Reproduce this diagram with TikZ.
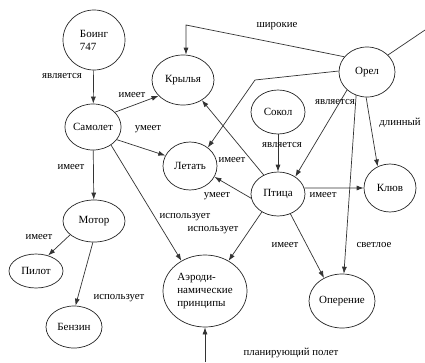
\documentclass[tikz,border=0pt]{standalone}
\usepackage{fontspec}
\setmainfont{Liberation Serif}
\usetikzlibrary{shapes.geometric,arrows.meta}
\begin{document}
\begin{tikzpicture}[x=1pt,y=-1pt,
  el/.style={ellipse,draw=black!85,line width=0.7pt,inner sep=0pt,font=\fontsize{11}{13}\selectfont},
  lbl/.style={font=\fontsize{10.8}{11}\selectfont,inner sep=0pt},
  con/.style={draw=black!80,line width=0.7pt,-{Latex[length=7pt,width=5pt]}},
  ln/.style={draw=black!80,line width=0.7pt}]
\useasboundingbox[fill=white] (0,0) rectangle (425,362);
% nodes
\node[el,minimum width=62pt,minimum height=60pt,align=left] (boeing) at (94,40) {Боинг\\747};
\node[el,minimum width=56pt,minimum height=46pt] (samolet) at (93,127) {Самолет};
\node[el,minimum width=62pt,minimum height=50pt] (kryl) at (183,80) {Крылья};
\node[el,minimum width=54pt,minimum height=48pt] (letat) at (190,166) {Летать};
\node[el,minimum width=54pt,minimum height=44pt] (sokol) at (278,112) {Сокол};
\node[el,minimum width=56pt,minimum height=50pt] (orel) at (367,72) {Орел};
\node[el,minimum width=54pt,minimum height=44pt] (ptica) at (278,194) {Птица};
\node[el,minimum width=52pt,minimum height=48pt] (kluv) at (390,188) {Клюв};
\node[el,minimum width=66pt,minimum height=54pt] (operenie) at (342,301) {Оперение};
\node[el,minimum width=84pt,minimum height=72pt,align=left] (aero) at (205,291) {Аэроди-\\намические\\принципы};
\node[el,minimum width=62pt,minimum height=42pt] (motor) at (94,221) {Мотор};
\node[el,minimum width=54pt,minimum height=34pt] (pilot) at (36,271) {Пилот};
\node[el,minimum width=56pt,minimum height=42pt] (benzin) at (74,327) {Бензин};
\coordinate (cw) at (186,25);
\coordinate (cl) at (255,80);
\coordinate (bot) at (205,362);
\coordinate (ne) at (425,30);
% connectors
\draw[con] (boeing) -- (samolet);
\draw[con] (samolet.34) -- (kryl.213);
\draw[con] (samolet.332) -- (letat.157);
\draw[con] (samolet) -- (motor);
\draw[con] (samolet.315) -- (aero.128);
\draw[con] (motor.210) -- (pilot.52);
\draw[con] (motor.267) -- (benzin.86);
\draw[con] (orel.146) -- (cw) -- (cw |- kryl.north);
\draw[con] (orel.178) -- (cl) -- (letat.46);
\draw[con] (orel.222) -- (ptica.45);
\draw[con] (orel.245) -- (operenie.86);
\draw[con] (orel.268) -- (kluv.120);
\draw[ln] (orel.39) -- (ne);
\draw[con] (sokol) -- (ptica);
\draw[con] (ptica.127) -- (kryl.313);
\draw[con] (ptica.189) -- (letat.336);
\draw[con] (ptica.13) -- (kluv.west);
\draw[con] (ptica.228) -- (aero.52);
\draw[con] (ptica.302) -- (operenie.128);
\draw[con] (bot) -- (aero.south);
% labels
\node[lbl] (l1) at (62,76) {является};
\node[lbl] (l2) at (132,95) {имеет};
\node[lbl] (l3) at (148,129) {умеет};
\node[lbl] (l4) at (71,167) {имеет};
\node[lbl] (l5) at (185,217) {использует};
\node[lbl] (l6) at (213,230) {использует};
\node[lbl] (l7) at (217,196) {умеет};
\node[lbl] (l8) at (232,160) {имеет};
\node[lbl] (l9) at (282,145) {является};
\node[lbl] (l10) at (335,102) {является};
\node[lbl] (l11) at (400,123) {длинный};
\node[lbl] (l12) at (277,26) {широкие};
\node[lbl] (l13) at (323,195) {имеет};
\node[lbl] (l14) at (285,245) {имеет};
\node[lbl] (l15) at (374,245) {светлое};
\node[lbl] (l16) at (39,237) {имеет};
\node[lbl] (l17) at (119,298) {использует};
\node[lbl] (l18) at (291,353) {планирующий полет};
\end{tikzpicture}
\end{document}
